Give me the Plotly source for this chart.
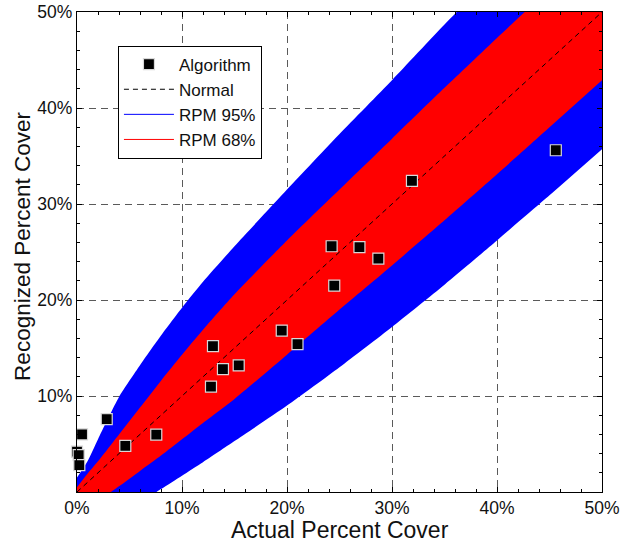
import plotly.graph_objects as go

# ---------------- data (percent units) ----------------
alg_x = [0.0, 0.16, 0.22, 0.48, 2.83, 4.6, 7.55, 12.76, 12.95, 13.9, 15.4,
         19.5, 21.0, 24.25, 24.5, 26.9, 28.7, 31.9, 45.6]
alg_y = [4.2, 3.85, 2.8, 6.0, 7.6, 4.8, 5.97, 10.97, 15.2, 12.8, 13.2,
         16.8, 15.4, 25.6, 21.5, 25.5, 24.3, 32.4, 35.6]

band_x = [0, 1, 2, 4, 6, 8, 10, 12, 15, 20, 25, 30, 35, 40, 45, 50]
rpm95_upper = [1.5, 3.2, 5.5, 9.9, 13.2, 16.3, 19.2, 21.9, 25.6, 31.5, 37.3, 42.9, 48.7, 54.2, 59.6, 65.0]
rpm95_lower = [-1.0, -1.8, -2.6, -2.5, -1.1, 0.3, 1.7, 3.1, 5.3, 9.0, 13.0, 17.2, 21.6, 26.2, 30.9, 35.7]
rpm68_upper = [0.5, 1.9, 3.2, 6.0, 8.8, 11.6, 14.3, 16.9, 20.6, 26.2, 31.5, 36.8, 42.1, 47.3, 52.4, 57.4]
rpm68_lower = [-0.2, -0.6, -0.8, 0.6, 2.2, 3.8, 5.5, 7.2, 9.7, 14.3, 19.0, 23.6, 28.3, 33.1, 38.0, 42.9]

normal_x = [0, 50]
normal_y = [0, 50]

x_tickvals = [0, 10, 20, 30, 40, 50]
x_ticktext = ["0%", "10%", "20%", "30%", "40%", "50%"]
y_tickvals = [0, 10, 20, 30, 40, 50]
y_ticktext = ["", "10%", "20%", "30%", "40%", "50%"]

FONT = "Liberation Sans, Arial, Helvetica, sans-serif"
BLUE = "#0000ff"
RED = "#ff0000"

fig = go.Figure()


def band(lower, upper, color):
    fig.add_trace(go.Scatter(
        x=band_x, y=lower, mode="lines",
        line=dict(width=0, color=color, shape="spline", smoothing=0.6),
        showlegend=False, hoverinfo="skip"))
    fig.add_trace(go.Scatter(
        x=band_x, y=upper, mode="lines", fill="tonexty", fillcolor=color,
        line=dict(width=0, color=color, shape="spline", smoothing=0.6),
        showlegend=False, hoverinfo="skip"))


band(rpm95_lower, rpm95_upper, BLUE)
band(rpm68_lower, rpm68_upper, RED)

# Normal line
fig.add_trace(go.Scatter(
    x=normal_x, y=normal_y, mode="lines", name="Normal",
    line=dict(color="black", width=1, dash="5px,4px"), legendrank=2))

# Algorithm points
fig.add_trace(go.Scatter(
    x=alg_x, y=alg_y, mode="markers", name="Algorithm",
    marker=dict(symbol="square", size=11, color="black",
                line=dict(color="#d8d8d8", width=1.2)),
    cliponaxis=False, legendrank=1))

# legend-only line entries for the bands
fig.add_trace(go.Scatter(x=[None], y=[None], mode="lines", name="RPM 95%",
                         line=dict(color=BLUE, width=1), legendrank=3))
fig.add_trace(go.Scatter(x=[None], y=[None], mode="lines", name="RPM 68%",
                         line=dict(color=RED, width=1), legendrank=4))

axis_common = dict(
    showline=True, linecolor="black", linewidth=1.2, mirror="ticks",
    ticks="inside", ticklen=5, tickcolor="black", tickwidth=1,
    showgrid=True, gridcolor="#5a5a5a", gridwidth=1, griddash="7px,5px",
    zeroline=False, automargin=False,
    minor=dict(dtick=2, ticks="inside", ticklen=3, tickcolor="black", showgrid=False),
    tickfont=dict(family=FONT, size=17.5, color="#111"),
)

fig.update_xaxes(range=[0, 50], tickvals=x_tickvals, ticktext=x_ticktext, **axis_common)
fig.update_yaxes(range=[0, 50], tickvals=y_tickvals, ticktext=y_ticktext, **axis_common)

# axis titles as annotations for exact placement
fig.add_annotation(text="Actual Percent Cover", xref="paper", yref="paper",
                   x=0.5, y=-0.08, xanchor="center", yanchor="middle",
                   showarrow=False, font=dict(family=FONT, size=23, color="#111"))
fig.add_annotation(text="Recognized Percent Cover", xref="paper", yref="paper",
                   x=-0.105, y=0.5125, xanchor="center", yanchor="middle",
                   textangle=-90, showarrow=False,
                   font=dict(family=FONT, size=22.5, color="#111"))

fig.update_layout(
    width=621, height=548,
    margin=dict(l=77, r=19, t=12, b=56),
    paper_bgcolor="white", plot_bgcolor="white",
    showlegend=True,
    legend=dict(x=0.078, y=0.93, xanchor="left", yanchor="top",
                bgcolor="white", bordercolor="black", borderwidth=1,
                font=dict(family=FONT, size=17, color="#111"),
                itemwidth=50, traceorder="normal"),
    font=dict(family=FONT),
)

# remove the default 8px page margin so the figure sits at the window origin
fig.write_html("out.html",
               config={"displayModeBar": False},
               post_script="document.body.style.margin='0';document.body.style.overflow='hidden';")
